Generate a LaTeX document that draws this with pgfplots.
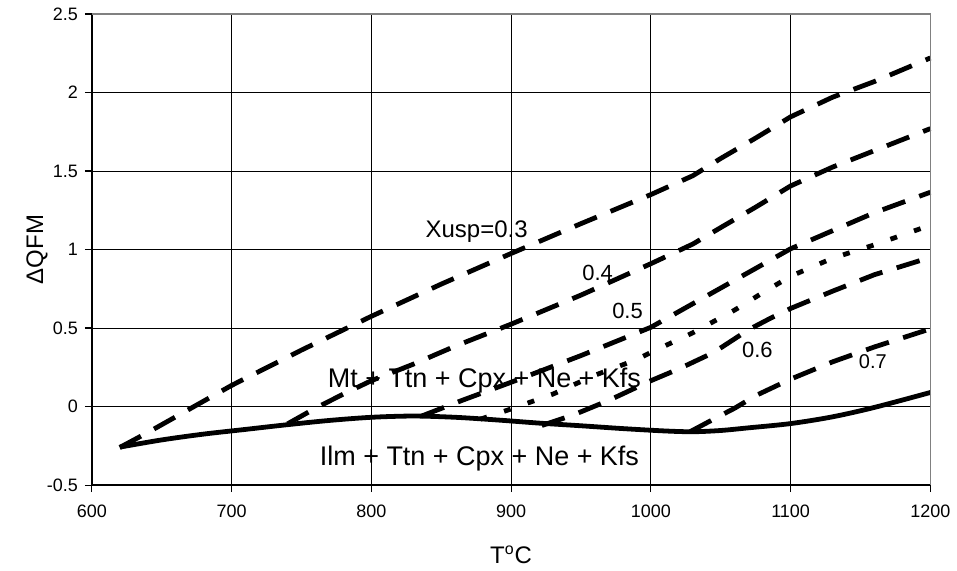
\documentclass[border=0pt]{standalone}
\usepackage{fontspec}
\setmainfont{Liberation Sans}
\usepackage{pgfplots}
\pgfplotsset{compat=1.18}

\begin{document}
\begin{tikzpicture}
\begin{axis}[
  scale only axis,
  width=420pt, height=236pt,
  xmin=600, xmax=1200, ymin=-0.5, ymax=2.5,
  xtick={600,700,...,1200},
  ytick={-0.5,0,0.5,1,1.5,2,2.5},
  /pgf/number format/assume math mode=true,
  /pgf/number format/1000 sep={},
  tick label style={font=\fontsize{9}{10}\selectfont},
  xticklabel style={yshift=-3pt},
  grid=major,
  major grid style={black, line width=0.5pt},
  axis x line*=bottom, axis y line*=left,
  axis line style={black, line width=0.8pt},
  tick align=outside,
  major tick length=3.5pt,
  tick style={black, line width=0.6pt},
  xlabel={T\textsuperscript{o}C},
  ylabel={ΔQFM},
  label style={font=\fontsize{12}{14}\selectfont},
  xlabel style={at={(axis description cs:0.5,-0.148)}, anchor=center},
  ylabel style={at={(axis description cs:-0.0655,0.5)}, anchor=center},
  clip=false,
]
% Xusp = 0.3
\addplot[black, line width=2.4pt, dash pattern=on 12pt off 7.5pt] coordinates {
  (620,-0.26)(640,-0.165)(660,-0.065)(680,0.035)(700,0.135)(750,0.36)(800,0.575)
  (850,0.78)(900,0.975)(950,1.165)(1000,1.35)(1030,1.47)(1050,1.58)(1075,1.71)
  (1100,1.845)(1130,1.97)(1160,2.07)(1200,2.22)
};
% 0.4
\addplot[black, line width=2.4pt, dash pattern=on 12pt off 7.5pt] coordinates {
  (740,-0.11)(760,-0.01)(780,0.08)(800,0.165)(830,0.27)(860,0.385)(900,0.525)
  (950,0.71)(1000,0.91)(1030,1.035)(1050,1.14)(1075,1.27)(1100,1.405)(1130,1.525)
  (1160,1.63)(1200,1.77)
};
% 0.5
\addplot[black, line width=2.4pt, dash pattern=on 12pt off 7.5pt] coordinates {
  (836,-0.06)(865,0.04)(900,0.155)(950,0.325)(1000,0.505)(1030,0.655)(1050,0.755)
  (1075,0.88)(1100,1.005)(1130,1.12)(1160,1.235)(1200,1.365)
};
% 0.55 (dotted)
\addplot[black, line width=2.4pt, dash pattern=on 3.5pt off 9pt] coordinates {
  (878,-0.08)(900,-0.015)(930,0.08)(960,0.2)(990,0.3)(1000,0.345)(1030,0.47)
  (1060,0.615)(1080,0.725)(1100,0.83)(1130,0.945)(1160,1.03)(1200,1.155)
};
% 0.6
\addplot[black, line width=2.4pt, dash pattern=on 12pt off 7.5pt] coordinates {
  (922,-0.12)(944,-0.055)(970,0.04)(1000,0.165)(1020,0.24)(1045,0.345)(1070,0.49)
  (1085,0.56)(1100,0.625)(1130,0.735)(1160,0.84)(1200,0.95)
};
% 0.7
\addplot[black, line width=2.4pt, dash pattern=on 12pt off 7.5pt] coordinates {
  (1028,-0.16)(1047,-0.07)(1060,-0.01)(1075,0.07)(1100,0.175)(1130,0.285)
  (1160,0.38)(1200,0.495)
};
% Ilm / Mt boundary
\addplot[black, line width=2.4pt, smooth] coordinates {
  (620,-0.258)(650,-0.212)(680,-0.175)(710,-0.145)(740,-0.115)(770,-0.088)
  (800,-0.068)(830,-0.06)(860,-0.068)(890,-0.085)(920,-0.105)(950,-0.122)
  (980,-0.14)(1010,-0.155)(1030,-0.16)(1050,-0.152)(1070,-0.135)(1100,-0.108)
  (1130,-0.065)(1160,-0.005)(1200,0.09)
};
\draw[gray, line width=0.8pt] (rel axis cs:0,1) -- (rel axis cs:1,1) -- (rel axis cs:1,0);
\node[anchor=base west, font=\fontsize{12}{14}\selectfont, inner sep=0pt] at (axis cs:838.6,1.078) {Xusp=0.3};
\node[anchor=base west, font=\fontsize{11}{13}\selectfont, inner sep=0pt] at (axis cs:950.7,0.80) {0.4};
\node[anchor=base west, font=\fontsize{11}{13}\selectfont, inner sep=0pt] at (axis cs:972.1,0.558) {0.5};
\node[anchor=base west, font=\fontsize{11}{13}\selectfont, inner sep=0pt] at (axis cs:1065,0.314) {0.6};
\node[anchor=base west, font=\fontsize{10}{12}\selectfont, inner sep=0pt] at (axis cs:1148.6,0.24) {0.7};
\node[anchor=base west, font=\fontsize{13.5}{16}\selectfont, inner sep=0pt] at (axis cs:768.6,0.123) {Mt + Ttn + Cpx + Ne + Kfs};
\node[anchor=base west, font=\fontsize{13.5}{16}\selectfont, inner sep=0pt] at (axis cs:762.9,-0.375) {Ilm + Ttn + Cpx + Ne + Kfs};
\end{axis}
\path ([xshift=-46pt,yshift=-41.5pt]current axis.south west) rectangle ([xshift=12.5pt,yshift=7pt]current axis.north east);
\end{tikzpicture}
\end{document}
